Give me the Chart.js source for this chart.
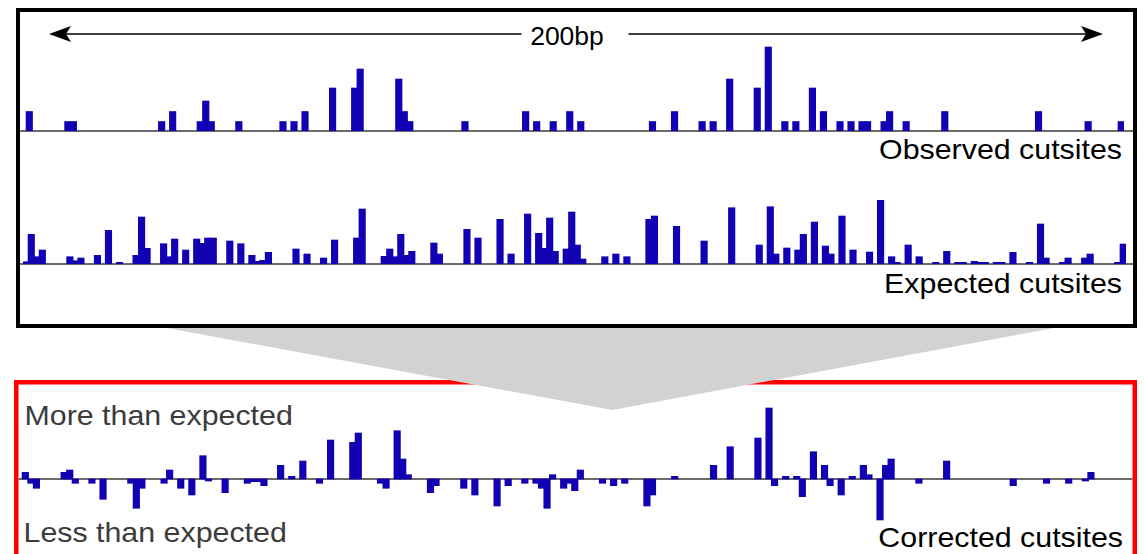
<!DOCTYPE html>
<html lang="en">
  <head>
    <meta charset="UTF-8" />
    <title>Observed, expected and corrected cutsites</title>
    <script src="https://cdn.jsdelivr.net/npm/chart.js@4.4.0/dist/chart.umd.min.js"></script>
    <style>
      body { margin: 0; background: #fff; overflow: hidden; }
      #stage { position: relative; width: 1144px; height: 554px; }
      #deco { position: absolute; left: 0; top: 0; }
      canvas { position: absolute; }
      text { font-family: 'Liberation Sans', Arial, Helvetica, sans-serif; }
    </style>
  </head>
  <body>
    <div id="stage">
      <!-- boxes, zoom wedge, arrow and labels -->
      <svg id="deco" width="1144" height="554">
        <rect x="18" y="10" width="1117" height="316" fill="none" stroke="#000" stroke-width="4" />
        <rect x="16.25" y="382.25" width="1118.5" height="300" fill="none" stroke="#ff0000" stroke-width="4.5" />
        <polygon points="167,328 1054,328 612.5,410" fill="#d2d2d2" />

        <line x1="20" y1="131" x2="1133" y2="131" stroke="#6b6b6b" stroke-width="2" />
        <line x1="20" y1="264" x2="1133" y2="264" stroke="#6b6b6b" stroke-width="2" />
        <line x1="18.5" y1="479" x2="1132.5" y2="479" stroke="#6b6b6b" stroke-width="2" />

        <line x1="62" y1="34" x2="521.5" y2="34" stroke="#000" stroke-width="1.7" />
        <line x1="628.5" y1="34" x2="1090" y2="34" stroke="#000" stroke-width="1.7" />
        <polygon points="49,34 71,26 66,34 71,42" fill="#000" />
        <polygon points="1103,34 1081,26 1086,34 1081,42" fill="#000" />
        <text x="567" y="45" font-size="26.5" text-anchor="middle" fill="#000">200bp</text>

        <text transform="translate(1122,159) scale(1.125,1)" font-size="27" text-anchor="end" fill="#000">Observed cutsites</text>
        <text transform="translate(1122,292.5) scale(1.125,1)" font-size="27" text-anchor="end" fill="#000">Expected cutsites</text>
        <text transform="translate(1123,547) scale(1.125,1)" font-size="27" text-anchor="end" fill="#000">Corrected cutsites</text>
        <text transform="translate(24.5,424.5) scale(1.125,1)" font-size="27" fill="#3c3c3c">More than expected</text>
        <text transform="translate(23.5,541.5) scale(1.125,1)" font-size="27" fill="#3c3c3c">Less than expected</text>
      </svg>
      <canvas id="obsChart" width="1103" height="90" style="left:21px; top:41px;"></canvas>
      <canvas id="expChart" width="1103" height="70" style="left:23px; top:194px;"></canvas>
      <canvas id="corChart" width="1110" height="122" style="left:17px; top:400px;"></canvas>
    </div>

    <script>
      // 200 bp window, one bin per base
      const binCount = 200;

      // observed cutsites: bin position and height
      const obsPos = [1, 8, 9, 25, 27, 32, 33, 34, 39, 47, 49, 51, 56, 60, 61, 68, 69, 70,
        80, 91, 93, 96, 99, 101, 114, 118, 123, 125, 128, 133, 135, 138, 140, 143, 145,
        148, 150, 152, 153, 156, 157, 160, 167, 184, 193, 199];
      const obsVal = [1.95, 0.95, 0.95, 0.95, 1.95, 0.95, 3.0, 0.95, 0.95, 0.95, 0.95, 1.95,
        4.3, 4.3, 6.2, 5.2, 1.95, 0.95,
        0.95, 1.95, 0.95, 0.95, 1.95, 0.95, 0.95, 1.95, 0.95, 0.95, 5.2, 4.3, 8.4, 0.95,
        0.95, 4.3, 1.95, 0.95, 0.95, 0.95, 0.95, 0.95, 1.95, 0.95, 1.95, 1.95, 0.95, 0.95];

      // expected cutsites
      const expPos = [0, 1, 2, 3, 8, 9, 10, 13, 15, 17, 20, 21, 22, 25, 26, 27, 29, 31, 32,
        33, 34, 37, 39, 41, 42, 43, 44, 49, 51, 54, 56, 60, 61, 65, 66, 67, 68, 69, 70,
        74, 75, 80, 82, 86, 88, 91, 93, 94, 95, 96, 98, 99, 100, 101, 105, 107, 109,
        113, 114, 118, 123, 128, 133, 135, 136, 138, 140, 141, 143, 145, 146, 148, 150,
        153, 155, 157, 158, 160, 162, 165, 167, 169, 170, 172, 173, 174, 176, 177, 179,
        182, 184, 185, 188, 189, 192, 193, 198, 199];
      const expVal = [0.23, 2.97, 0.73, 1.4, 0.73, 0.33, 0.6, 0.87, 3.37, 0.17, 0.87, 4.7,
        1.57, 2.03, 0.73, 2.5, 1.4, 2.5, 2.07,
        2.6, 2.6, 2.3, 2.03, 0.87, 0.27, 0.37, 1.17, 1.5, 1.0, 0.6, 2.4, 2.6, 5.5, 0.77,
        1.5, 0.73, 2.97, 0.87, 1.27,
        2.1, 1.0, 3.47, 2.6, 4.47, 1.0, 5.0, 3.07, 1.57, 4.6, 1.27, 1.5, 5.2, 1.9, 0.5,
        0.73, 1.0, 0.73,
        4.47, 4.8, 3.77, 2.3, 5.63, 1.9, 5.73, 1.0, 1.6, 1.4, 2.97, 4.2, 1.8, 1.0, 4.8, 1.4,
        1.2, 6.37, 0.73, 0.17, 1.9, 0.73, 0.17, 1.27, 0.17, 0.17, 0.27, 0.17, 0.17, 0.17,
        0.17, 1.17,
        0.17, 4.0, 0.6, 0.17, 0.6, 0.6, 1.0, 0.17, 2.0];

      // corrected cutsites (positive = more than expected)
      const corPos = [1, 2, 3, 8, 9, 10, 13, 15, 20, 21, 22, 26, 27, 29, 31, 33, 34, 37, 41,
        42, 43, 44, 47, 49, 51, 54, 56, 60, 61, 65, 66, 68, 69, 70, 74, 75, 80, 82, 86,
        88, 91, 93, 94, 95, 96, 98, 99, 100, 101, 105, 107, 109, 113, 114, 118, 125,
        128, 133, 135, 136, 138, 140, 141, 143, 145, 146, 148, 150, 152, 153, 155, 156,
        157, 162, 167, 179, 185, 189, 192, 193];
      const corVal = [0.67, -0.43, -0.93, 0.67, 0.9, -0.43, -0.43, -2.03, -0.43, -2.93, -0.93,
        -0.43, 0.9, -0.93, -1.6, 2.33, -0.2, -1.37, -0.43,
        -0.27, -0.27, -0.67, 1.37, 0.27, 1.8, -0.43, 3.9, 3.67, 4.6, -0.43, -0.93, 4.83,
        2.0, 0.43, -1.37, -0.67, -0.93, -1.6, -2.7,
        -0.67, -0.43, -0.43, -0.93, -2.93, 0.43, -0.93, -0.43, -1.17, 0.9, -0.43, -0.67,
        -0.43, -2.7, -1.6, 0.27, 1.37,
        3.23, 4.1, 7.1, -0.67, 0.27, 0.27, -1.77, 2.73, 1.37, -0.67, -1.6, 0.27, 1.37,
        0.43, -4.1, 1.37,
        2.0, -0.43, 1.8, -0.67, -0.43, -0.43, -0.2, 0.67];

      const barColor = '#1200b3';

      window.addEventListener('load', setup);

      // spread the sparse positions over every bin of the window
      function fillBins(pos, val) {
        const bins = new Array(binCount).fill(null);
        pos.forEach((p, i) => { bins[p] = val[i]; });
        return bins;
      }

      function makeTrack(id, values, yMin, yMax) {
        const labels = [];
        for (let i = 0; i < binCount; i++) labels.push(i + 1);
        const ctx = document.getElementById(id).getContext('2d');
        return new Chart(ctx, {
          type: 'bar',
          data: {
            labels: labels,
            datasets: [
              {
                data: values,
                backgroundColor: barColor,
                borderWidth: 0,
                barThickness: 6.5
              }
            ]
          },
          options: {
            responsive: false,
            maintainAspectRatio: false,
            animation: false,
            devicePixelRatio: 1,
            layout: { padding: 0 },
            plugins: { legend: { display: false }, tooltip: { enabled: false } },
            scales: {
              x: { display: false, offset: true },
              y: { display: false, min: yMin, max: yMax }
            }
          }
        });
      }

      function setup() {
        makeTrack('obsChart', fillBins(obsPos, obsVal), 0, 9);
        makeTrack('expChart', fillBins(expPos, expVal), 0, 7);
        makeTrack('corChart', fillBins(corPos, corVal), -4.3, 7.9);
      }
    </script>
  </body>
</html>
